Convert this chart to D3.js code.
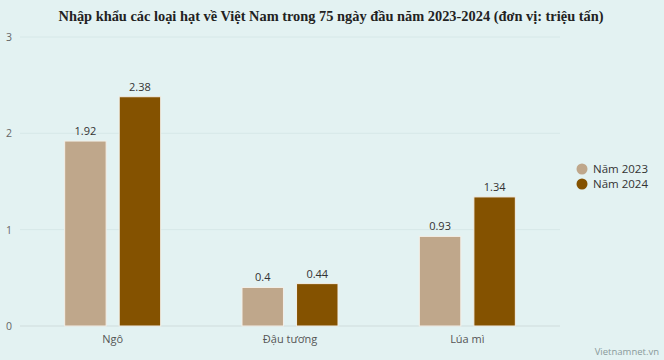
<!DOCTYPE html>
<html><head><meta charset="utf-8">
<script src="https://cdn.jsdelivr.net/npm/d3@7"></script>
<style>
html,body{margin:0;padding:0;background:#e3f2f2;}
svg{display:block;}
</style></head>
<body>
<svg id="c" width="664" height="360"></svg>
<script>
const categories = ["Ngô", "Đậu tương", "Lúa mì"];
const seriesNames = ["Năm 2023", "Năm 2024"];
const values2023 = [1.92, 0.4, 0.93];
const values2024 = [2.38, 0.44, 1.34];
const yTicks = [0, 1, 2, 3];
const colors = ["#bfa78b", "#845200"];
const title = "Nhập khẩu các loại hạt về Việt Nam trong 75 ngày đầu năm 2023-2024 (đơn vị: triệu tấn)";

const svg = d3.select("#c");
svg.append("rect").attr("width",664).attr("height",360).attr("fill","#e3f2f2");

const x = d3.scaleBand().domain(categories).range([24, 556]).paddingInner(0).paddingOuter(0);
const y = d3.scaleLinear().domain([0, 3]).range([326, 37]);
const inner = d3.scaleBand().domain(seriesNames).range([x.bandwidth()/2 - 48, x.bandwidth()/2 + 48]).paddingInner(0.24);

svg.append("text").attr("x", 331).attr("y", 21).attr("text-anchor","middle")
  .attr("font-family","'Liberation Serif', 'Times New Roman', serif").attr("font-weight","bold")
  .attr("font-size", 15.5).attr("fill","#222")
  .attr("textLength", 545).attr("lengthAdjust","spacingAndGlyphs").text(title);

// grid
const grid = svg.append("g");
yTicks.forEach(t => {
  grid.append("line").attr("x1", 20).attr("x2", 560).attr("y1", y(t)).attr("y2", y(t))
    .attr("stroke", t === 0 ? "#cfdcdc" : "#d6e8e8").attr("stroke-width", 1);
});
const yAxis = d3.axisLeft(y).tickValues(yTicks).tickSize(0).tickFormat(d3.format("d"));
const ya = svg.append("g").attr("transform","translate(12,0)").call(yAxis);
ya.select(".domain").remove();
ya.selectAll("text").attr("font-family","'Open Sans', sans-serif").attr("font-size",10.5).attr("fill","#666").attr("text-anchor","start").attr("x",-6);

const xAxis = d3.axisBottom(x).tickSize(0);
const xa = svg.append("g").attr("transform",`translate(0,${y(0)})`).call(xAxis);
xa.select(".domain").remove();
xa.selectAll("text").attr("font-family","'Open Sans', sans-serif").attr("font-size",11).attr("fill","#555").attr("dy","1.25em");

const data = categories.map((c,i) => ({cat:c, vals:[values2023[i], values2024[i]]}));
const g = svg.append("g");
data.forEach(d => {
  d.vals.forEach((v, j) => {
    const bx = x(d.cat) + inner(seriesNames[j]);
    g.append("rect").attr("x", bx).attr("y", y(v)).attr("width", inner.bandwidth())
      .attr("height", y(0) - y(v)).attr("fill", colors[j]).attr("stroke","#f3efe8").attr("stroke-width",1);
    g.append("text").attr("x", bx + inner.bandwidth()/2).attr("y", y(v) - 6).attr("text-anchor","middle")
      .attr("font-family","'Open Sans', sans-serif").attr("font-size",11).attr("fill","#333").text(v);
  });
});

// legend
const lg = svg.append("g");
seriesNames.forEach((s, i) => {
  lg.append("circle").attr("cx", 582).attr("cy", 169 + i*15).attr("r", 5.5).attr("fill", colors[i]);
  lg.append("text").attr("x", 593).attr("y", 173 + i*15).attr("font-family","'Open Sans', sans-serif")
    .attr("font-size",11.5).attr("fill","#333").text(s);
});

svg.append("text").attr("x", 659).attr("y", 355).attr("text-anchor","end")
  .attr("font-family","'Open Sans', sans-serif").attr("font-size",9.5).attr("fill","#8a9a9a").text("Vietnamnet.vn");
</script>
</body></html>
